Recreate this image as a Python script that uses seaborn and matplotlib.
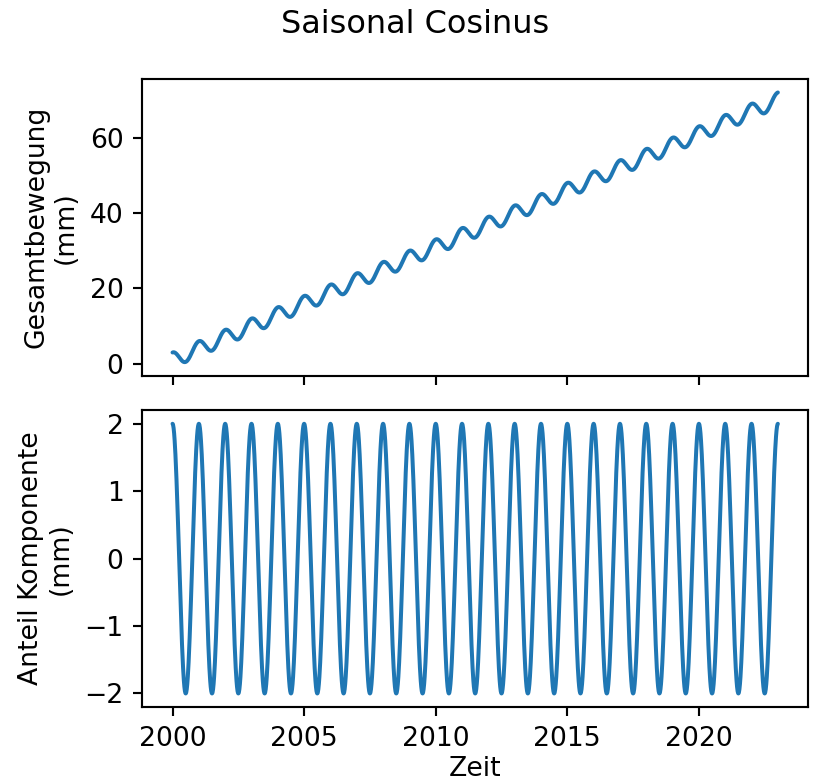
import numpy as np
import pandas as pd
import matplotlib
matplotlib.use("Agg")
import matplotlib.pyplot as plt
import seaborn as sns

# Model parameters of the seasonal cosine displacement
start_year = 2000.0
end_year = 2023.0
samples_per_year = 100
linear_rate_mm_per_year = 3.0
offset_mm = 1.0
seasonal_amplitude_mm = 2.0
seasonal_period_years = 1.0

title = "Saisonal Cosinus"
top_ylabel = "Gesamtbewegung\n(mm)"
bottom_ylabel = "Anteil Komponente\n(mm)"
xlabel = "Zeit"

t = np.linspace(start_year, end_year, int((end_year - start_year) * samples_per_year) + 1)
seasonal = seasonal_amplitude_mm * np.cos(2 * np.pi * (t - start_year) / seasonal_period_years)
total = offset_mm + linear_rate_mm_per_year * (t - start_year) + seasonal

df = pd.DataFrame({"Zeit": t, "total": total, "seasonal": seasonal})

sns.set_style("ticks")
plt.rcParams.update({
    "font.family": ["DejaVu Sans"],
    "axes.edgecolor": "black",
    "xtick.color": "black",
    "ytick.color": "black",
    "axes.labelcolor": "black",
    "text.color": "black",
})

DPI = 192
fig, (ax1, ax2) = plt.subplots(2, 1, sharex=True, figsize=(813 / DPI, 782 / DPI), dpi=DPI)
fig.subplots_adjust(left=0.175, right=0.994, top=0.899, bottom=0.096, hspace=0.117)

color = "#1f77b4"
sns.lineplot(data=df, x="Zeit", y="total", ax=ax1, color=color, linewidth=1.5)
sns.lineplot(data=df, x="Zeit", y="seasonal", ax=ax2, color=color, linewidth=1.5)

ax1.set_ylabel(top_ylabel, fontsize=10)
ax1.set_xlabel("")
ax2.set_ylabel(bottom_ylabel, fontsize=10)
ax2.set_xlabel(xlabel, fontsize=10, labelpad=1.5)

ax1.set_yticks([0, 20, 40, 60])
ax2.set_yticks([-2, -1, 0, 1, 2])
ax2.set_xticks([2000, 2005, 2010, 2015, 2020])

for ax in (ax1, ax2):
    for s in ax.spines.values():
        s.set_visible(True)
        s.set_linewidth(0.8)
    ax.tick_params(labelsize=10, width=0.8, length=3.5)

fig.suptitle(title, fontsize=12, x=0.51, y=0.988)
fig.savefig("out.png", dpi=DPI)
